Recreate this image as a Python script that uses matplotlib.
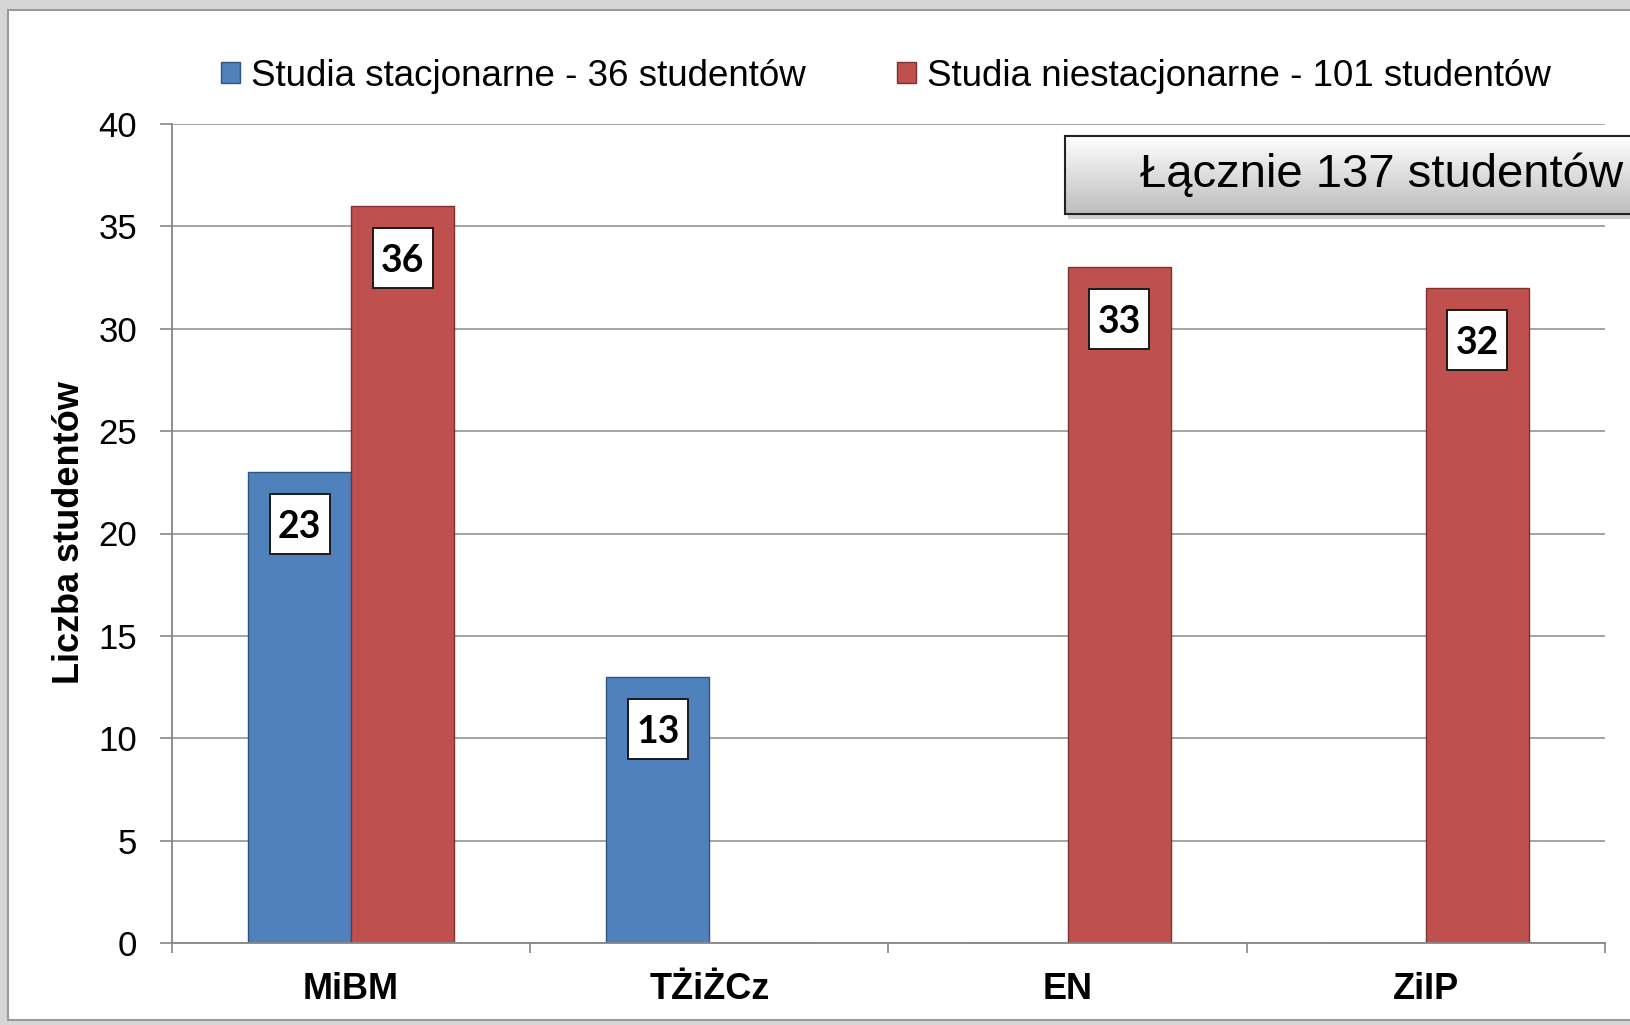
import matplotlib
matplotlib.use("Agg")
import matplotlib.pyplot as plt
import numpy as np
from matplotlib.patches import Rectangle
from matplotlib.colors import LinearSegmentedColormap
import matplotlib.transforms as mtransforms

categories = ["MiBM", "TŻiŻCz", "EN", "ZiIP"]
stacjonarne = [23, 13, 0, 0]
niestacjonarne = [36, 0, 33, 32]
legend_labels = ["Studia stacjonarne - 36 studentów", "Studia niestacjonarne - 101 studentów"]
y_ticks = [0, 5, 10, 15, 20, 25, 30, 35, 40]
total_label = "Łącznie 137 studentów"
y_label = "Liczba studentów"

W, H = 1631, 1025
DPI = 100
fig = plt.figure(figsize=(W / DPI, H / DPI), dpi=DPI, facecolor="#d6d6d6")

def fx(px):
    return px / W

def fy(py):
    return 1 - py / H

# white chart panel
panel = Rectangle((fx(8), fy(1020)), fx(1700), (1020 - 10) / H, transform=fig.transFigure,
                  facecolor="white", edgecolor="#9a9a9a", linewidth=1.5, zorder=-5)
fig.patches.append(panel)

ax = fig.add_axes([fx(172), fy(943), fx(1605 - 172), (943 - 124) / H], zorder=1)
ax.set_facecolor("none")

x = np.arange(len(categories))
bw = 0.288
blue, red = "#4f81bd", "#c0504d"
b1 = ax.bar(x - bw / 2, stacjonarne, bw, color=blue, edgecolor="#2f5580", linewidth=1.0, zorder=3)
b2 = ax.bar(x + bw / 2, niestacjonarne, bw, color=red, edgecolor="#7d3230", linewidth=1.0, zorder=3)

ax.set_xlim(-0.5, 3.5)
ax.set_ylim(0, 40)
ax.set_yticks(y_ticks)
ax.set_yticklabels([str(v) for v in y_ticks], fontsize=25, family="Liberation Sans")
ax.tick_params(axis="y", length=9, width=1.2, color="#868686", pad=16)
ax.set_xticks(x)
ax.set_xticklabels(categories, fontsize=26, family="Liberation Sans", fontweight="bold")
ax.tick_params(axis="x", which="major", length=0, pad=21)
ax.set_xticks(np.arange(-0.5, 4.0, 1.0), minor=True)
ax.tick_params(axis="x", which="minor", length=7.5, width=1.2, color="#868686")

ax.grid(axis="y", color="#8c8c8c", linewidth=1.1, zorder=0)
ax.set_axisbelow(True)
for s in ["top", "right"]:
    ax.spines[s].set_visible(False)
for s in ["left", "bottom"]:
    ax.spines[s].set_color("#868686")
    ax.spines[s].set_linewidth(1.3)
    ax.spines[s].set_zorder(4)

# value labels: fixed-size white boxes anchored just below the bar top
BOX = 60     # px
GAP = 22     # px below bar top
for bars, vals in ((b1, stacjonarne), (b2, niestacjonarne)):
    for rect, v in zip(bars, vals):
        if v == 0:
            continue
        xc = rect.get_x() + rect.get_width() / 2
        tr = mtransforms.IdentityTransform() + mtransforms.ScaledTranslation(xc, v, ax.transData)
        ax.add_patch(Rectangle((-BOX / 2, -GAP - BOX), BOX, BOX, transform=tr,
                               facecolor="white", edgecolor="#1a1a1a", linewidth=1.4,
                               zorder=5, clip_on=False))
        ax.text(0, -GAP - BOX / 2, str(v), transform=tr, ha="center", va="center_baseline",
                fontsize=27, fontweight="bold", family="Lato", color="black", zorder=6)

# legend
leg = fig.legend([b1, b2], legend_labels, loc="center", bbox_to_anchor=(fx(886), fy(76)),
                 ncol=2, frameon=False, handlelength=0.5, handleheight=0.5,
                 handletextpad=0.3, columnspacing=2.5,
                 prop=dict(family="Liberation Sans", size=26.5))

# y label
fig.text(fx(70), fy(533), y_label, rotation=90, ha="center", va="center",
         fontsize=26, fontweight="bold", family="Liberation Sans")

# total box with gradient and shadow
shadow = Rectangle((fx(1068), fy(219)), fx(700), 78 / H, transform=fig.transFigure,
                   facecolor="#b0b0b0", edgecolor="none", alpha=0.6, zorder=5)
fig.patches.append(shadow)
bax = fig.add_axes([fx(1065), fy(214), fx(700), 78 / H], zorder=6)
grad = np.linspace(0, 1, 100).reshape(-1, 1)
cmap = LinearSegmentedColormap.from_list("g", ["#fefefe", "#bdbdbd"])
bax.imshow(grad, aspect="auto", cmap=cmap, extent=[0, 1, 0, 1], origin="upper")
bax.set_xticks([])
bax.set_yticks([])
for s in bax.spines.values():
    s.set_color("#222222")
    s.set_linewidth(1.5)
fig.text(fx(1623), fy(175), total_label, ha="right", va="center", fontsize=34,
         family="Liberation Sans", zorder=7)

fig.savefig("out.png", dpi=DPI, facecolor=fig.get_facecolor())
